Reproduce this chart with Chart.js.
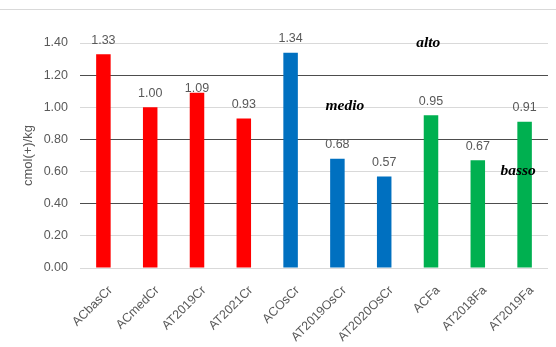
<!DOCTYPE html>
<html>
<head>
<meta charset="utf-8">
<script src="https://cdn.jsdelivr.net/npm/chart.js@4/dist/chart.umd.min.js"></script>
<style>
  html, body { margin: 0; padding: 0; background: #fff; }
  #wrap { position: relative; width: 556px; height: 347px; }
  #topline { position: absolute; left: 0; top: 9px; width: 556px; height: 1px; background: #d9d9d9; }
</style>
</head>
<body>
<div id="wrap">
  <div id="topline"></div>
  <canvas id="chart"></canvas>
</div>
<script>
// ── Exchangeable cations chart ──
// One bar per sample, coloured by group, with alto / medio / basso bands.

const categories = ['ACbasCr', 'ACmedCr', 'AT2019Cr', 'AT2021Cr', 'ACOsCr',
                    'AT2019OsCr', 'AT2020OsCr', 'ACFa', 'AT2018Fa', 'AT2019Fa'];
const values = [1.33, 1.00, 1.09, 0.93, 1.34, 0.68, 0.57, 0.95, 0.67, 0.91];
const groups = ['Cr', 'Cr', 'Cr', 'Cr', 'Os', 'Os', 'Os', 'Fa', 'Fa', 'Fa'];
const yTicks = [0, 0.2, 0.4, 0.6, 0.8, 1.0, 1.2, 1.4];
const thresholds = [0.4, 0.8, 1.2];

// band labels: text, category position, value
const zoneNames = ['alto', 'medio', 'basso'];
const zoneX = [6.94, 5.16, 8.86];
const zoneY = [1.378, 0.983, 0.579];

const groupColor = { Cr: '#FF0000', Os: '#0070C0', Fa: '#00B050' };
const GRAY = '#595959';
const FONT = 'Liberation Sans';

const barLabels = {
  id: 'barLabels',
  afterDatasetsDraw(chart) {
    const ctx = chart.ctx;
    const meta = chart.getDatasetMeta(0);
    ctx.save();
    ctx.font = '12.5px "' + FONT + '"';
    ctx.fillStyle = GRAY;
    ctx.textAlign = 'center';
    ctx.textBaseline = 'alphabetic';
    meta.data.forEach((bar, i) => {
      // 1.09 label was pushed down off the 1.20 line in the original
      const shift = i === 2 ? 10 : 0;
      ctx.fillText(values[i].toFixed(2), bar.x, bar.y - 10.5 + shift);
    });
    ctx.restore();
  }
};

const zoneLabels = {
  id: 'zoneLabels',
  afterDatasetsDraw(chart) {
    const { ctx, scales: { x, y } } = chart;
    ctx.save();
    ctx.font = 'italic bold 15.5px "Liberation Serif"';
    ctx.fillStyle = '#000';
    ctx.textAlign = 'center';
    ctx.textBaseline = 'alphabetic';
    zoneNames.forEach((name, i) => {
      ctx.fillText(name, x.getPixelForValue(zoneX[i]), y.getPixelForValue(zoneY[i]));
    });
    ctx.restore();
  }
};

new Chart(document.getElementById('chart'), {
  type: 'bar',
  data: {
    labels: categories,
    datasets: [{
      data: values,
      backgroundColor: groups.map(g => groupColor[g]),
      borderWidth: 0,
      categoryPercentage: 1,
      barPercentage: 0.31
    }]
  },
  options: {
    responsive: true,
    maintainAspectRatio: false,
    animation: false,
    layout: { padding: { top: 43, right: 8, left: 0, bottom: 0 } },
    plugins: {
      legend: { display: false },
      tooltip: { enabled: false }
    },
    scales: {
      x: {
        grid: { display: false },
        border: { display: false },
        ticks: {
          color: GRAY,
          font: { size: 12.5, family: FONT },
          autoSkip: false,
          minRotation: 45,
          maxRotation: 45,
          padding: 7,
          labelOffset: 7
        },
        afterFit: s => { s.height = 79; }
      },
      y: {
        min: 0,
        max: 1.4,
        afterBuildTicks: s => { s.ticks = yTicks.map(v => ({ value: v })); },
        border: { display: false },
        grid: {
          drawTicks: false,
          color: c => thresholds.some(t => Math.abs(c.tick.value - t) < 1e-6) ? '#4d4d4d' : '#d9d9d9'
        },
        ticks: {
          color: GRAY,
          font: { size: 12.5, family: FONT },
          padding: 12,
          callback: v => Number(v).toFixed(2)
        },
        title: {
          display: true,
          text: 'cmol(+)/kg',
          color: GRAY,
          font: { size: 13, family: FONT },
          padding: { top: 21, bottom: 0 }
        },
        afterFit: s => { s.width = 80; }
      }
    }
  },
  plugins: [barLabels, zoneLabels]
});
</script>
</body>
</html>
